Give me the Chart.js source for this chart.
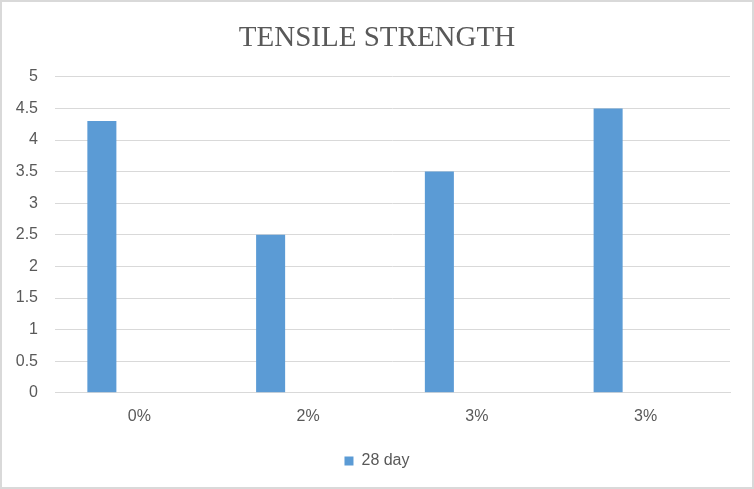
<!DOCTYPE html>
<html><head><meta charset="utf-8">
<script src="https://cdn.jsdelivr.net/npm/chart.js@4"></script>
<style>html,body{margin:0;padding:0;background:#fff}#wrap{width:754px;height:489px;position:relative}</style>
</head><body><div id="wrap"><canvas id="c" width="754" height="489"></canvas></div>
<script>
const categories = ['0%', '2%', '3%', '3%'];
const day28 = [4.3, 2.5, 3.5, 4.5];
const emptySeries = [null, null, null, null];
const seriesLabel = '28 day';
const chartTitle = 'TENSILE STRENGTH';

const borderPlugin = {
  id: 'frame',
  afterDraw(chart) {
    const ctx = chart.ctx;
    ctx.save();
    ctx.strokeStyle = '#d9d9d9';
    ctx.lineWidth = 2;
    ctx.strokeRect(1, 1, chart.width - 2, chart.height - 2);
    ctx.restore();
  }
};

new Chart(document.getElementById('c'), {
  type: 'bar',
  data: {
    labels: categories,
    datasets: [
      { label: seriesLabel, data: day28, backgroundColor: '#5b9bd5', borderWidth: 0,
        categoryPercentage: 0.889, barPercentage: 0.387 },
      { label: '', data: emptySeries, backgroundColor: '#ed7d31', borderWidth: 0,
        categoryPercentage: 0.889, barPercentage: 0.387 }
    ]
  },
  options: {
    responsive: false,
    animation: false,
    devicePixelRatio: 1,
    layout: { padding: { left: 12, right: 12, top: 0, bottom: 10 } },
    plugins: {
      title: {
        display: true, text: chartTitle, color: '#595959',
        font: { family: 'Liberation Serif', size: 29, weight: 'normal' },
        padding: { top: 21, bottom: 21 }
      },
      legend: {
        position: 'bottom',
        labels: {
          filter: (item) => item.text !== '',
          color: '#595959', boxWidth: 9, boxHeight: 9, padding: 13,
          font: { family: 'Liberation Sans', size: 16 }
        }
      },
      tooltip: { enabled: false }
    },
    scales: {
      x: {
        grid: { display: false, drawTicks: false },
        border: { display: true, color: '#d9d9d9', width: 1 },
        ticks: { color: '#595959', padding: 14, font: { family: 'Liberation Sans', size: 16 } }
      },
      y: {
        min: 0, max: 5,
        afterFit: (s) => { s.width = 43; },
        grid: { color: '#d9d9d9', drawTicks: false },
        border: { display: false },
        ticks: { stepSize: 0.5, color: '#595959', padding: 17,
          font: { family: 'Liberation Sans', size: 16 },
          callback: (v) => String(v) }
      },
      yRightSpace: {
        position: 'right', min: 0, max: 5,
        afterFit: (s) => { s.width = 12; },
        grid: { display: false, drawTicks: false },
        border: { display: false },
        ticks: { display: false }
      }
    }
  },
  plugins: [borderPlugin]
});
</script></body></html>
